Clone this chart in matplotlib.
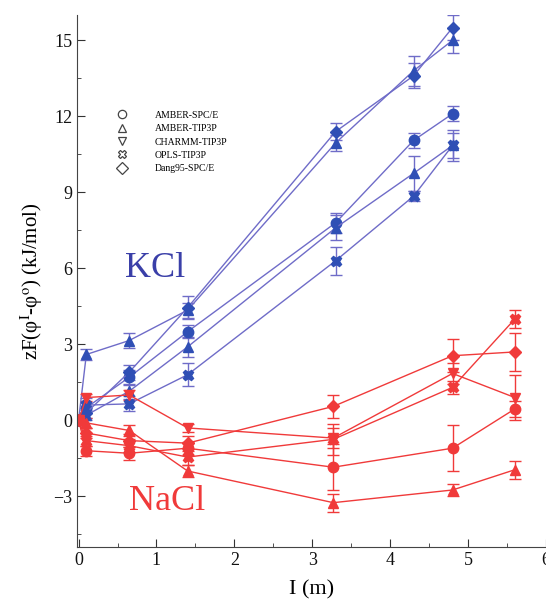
import matplotlib
matplotlib.use('Agg')
import matplotlib.pyplot as plt
from matplotlib.lines import Line2D
from matplotlib.ticker import MultipleLocator

plt.rcParams['font.family'] = ['Liberation Serif', 'DejaVu Serif']
plt.rcParams['mathtext.fontset'] = 'stix'

# ionic strength (m)
kcl_x = [0, 0.1, 0.65, 1.4, 3.3, 4.3, 4.8]
nacl_x = [0, 0.1, 0.65, 1.4, 3.27, 4.8, 5.6]

labels = ['AMBER-SPC/E', 'AMBER-TIP3P', 'CHARMM-TIP3P', 'OPLS-TIP3P', 'Dang95-SPC/E']
markers = ['o', '^', '^', 'X', 'D']
legend_markers = ['o', '^', 'v', 'X', 'D']

# KCl
kcl_amber_spce = [0, 0.5, 1.7, 3.5, 7.8, 11.05, 12.1]
kcl_amber_tip3p = [0, 2.6, 3.15, 4.35, 10.95, 13.8, 15.0]
kcl_charmm = [0, 0.2, 1.15, 2.9, 7.6, 9.75, 10.85]
kcl_opls = [0, 0.6, 0.65, 1.8, 6.3, 8.85, 10.85]
kcl_dang = [0, 0.3, 1.9, 4.45, 11.4, 13.6, 15.5]

kcl_err_amber_spce = [0, 0.2, 0.3, 0.25, 0.4, 0.3, 0.3]
kcl_err_amber_tip3p = [0, 0.2, 0.3, 0.3, 0.3, 0.6, 0.5]
kcl_err_charmm = [0, 0.2, 0.3, 0.4, 0.5, 0.7, 0.5]
kcl_err_opls = [0, 0.3, 0.3, 0.45, 0.55, 0.2, 0.6]
kcl_err_dang = [0, 0.2, 0.3, 0.45, 0.35, 0.5, 0.5]

# NaCl
nacl_amber_spce = [0, -1.2, -1.3, -1.1, -1.85, -1.1, 0.45]
nacl_amber_tip3p = [0, -0.1, -0.4, -2.0, -3.25, -2.75, -1.95]
nacl_charmm = [0, 0.9, 1.0, -0.3, -0.7, 1.85, 0.9]
nacl_opls = [0, -0.8, -1.0, -1.45, -0.75, 1.3, 4.0]
nacl_dang = [0, -0.5, -0.8, -0.9, 0.55, 2.55, 2.7]

nacl_err_amber_spce = [0, 0.2, 0.25, 0.25, 0.9, 0.9, 0.3]
nacl_err_amber_tip3p = [0, 0.2, 0.2, 0.25, 0.35, 0.25, 0.35]
nacl_err_charmm = [0, 0.15, 0.2, 0.15, 0.4, 0.4, 0.9]
nacl_err_opls = [0, 0.2, 0.25, 0.3, 0.6, 0.25, 0.35]
nacl_err_dang = [0, 0.2, 0.25, 0.3, 0.45, 0.65, 0.75]

kcl = [kcl_amber_spce, kcl_amber_tip3p, kcl_charmm, kcl_opls, kcl_dang]
kcl_err = [kcl_err_amber_spce, kcl_err_amber_tip3p, kcl_err_charmm, kcl_err_opls, kcl_err_dang]
nacl = [nacl_amber_spce, nacl_amber_tip3p, nacl_charmm, nacl_opls, nacl_dang]
nacl_err = [nacl_err_amber_spce, nacl_err_amber_tip3p, nacl_err_charmm, nacl_err_opls, nacl_err_dang]
nacl_markers = ['o', '^', 'v', 'X', 'D']

blue_line = '#6f6cc8'
blue_mark = '#2f4fb5'
red = '#f03a3a'

fig = plt.figure(figsize=(5.46, 6.10), dpi=100)
ax = fig.add_axes([77 / 546, 63 / 610, 469 / 546, 532 / 610])

for i in range(5):
    ms = 6.5 if markers[i] == 'D' else 7.5
    ax.errorbar(kcl_x, kcl[i], yerr=kcl_err[i], color=blue_line, lw=1,
                marker=markers[i], ms=ms, mfc=blue_mark, mec=blue_mark,
                ecolor=blue_line, elinewidth=1, capsize=4, capthick=1)

for i in range(5):
    ms = 6.5 if nacl_markers[i] == 'D' else 7.5
    ax.errorbar(nacl_x, nacl[i], yerr=nacl_err[i], color=red, lw=1,
                marker=nacl_markers[i], ms=ms, mfc=red, mec=red,
                ecolor=red, elinewidth=1, capsize=4, capthick=1)

ax.set_xlim(-0.02, 6)
ax.set_ylim(-5, 16)
ax.xaxis.set_major_locator(MultipleLocator(1))
ax.xaxis.set_minor_locator(MultipleLocator(0.5))
ax.yaxis.set_major_locator(MultipleLocator(3))
ax.yaxis.set_minor_locator(MultipleLocator(1.5))
ax.tick_params(which='both', direction='in', labelsize=13, colors='#333333', labelcolor='#111111')
ax.tick_params(which='major', length=6)
ax.tick_params(which='minor', length=3)
ax.spines['top'].set_visible(False)
ax.spines['right'].set_visible(False)
for s in ['left', 'bottom']:
    ax.spines[s].set_color('#444444')

ax.set_xlabel('I (m)', fontsize=16, labelpad=8)
ax.set_ylabel('zF(φ$^{\\mathrm{I}}$-φ$^{\\mathrm{o}}$) (kJ/mol)', fontsize=15, labelpad=6)

ax.text(0.6, 6.0, 'KCl', color='#3a3fa8', fontsize=26, ha='left', va='center')
ax.text(0.65, -3.2, 'NaCl', color=red, fontsize=26, ha='left', va='center')

handles = [Line2D([], [], ls='none', marker=m, mfc='none', mec='#444444', ms=6, mew=0.9)
           for m in legend_markers]
ax.legend(handles, labels, loc='upper left', bbox_to_anchor=(0.075, 0.82),
          frameon=False, fontsize=7, handlelength=2, handletextpad=2.4,
          labelspacing=0.45, borderpad=0, borderaxespad=0)

plt.savefig('out.png', dpi=100)
